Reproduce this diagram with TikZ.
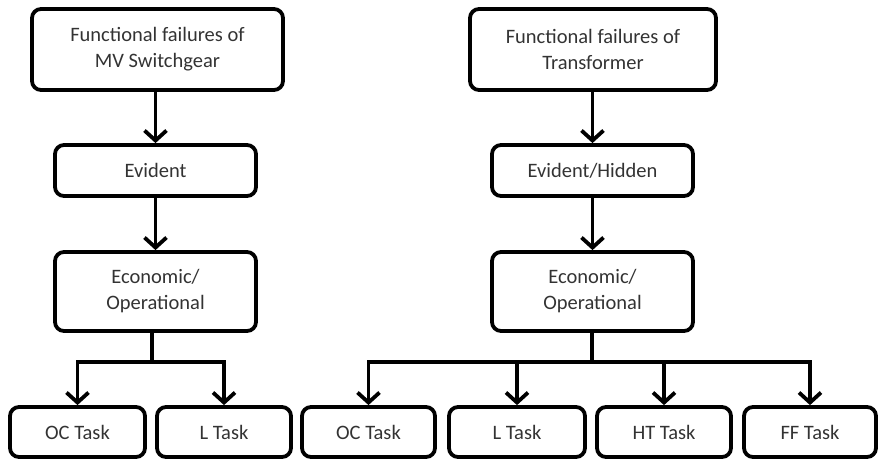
\documentclass[tikz,border=0pt]{standalone}
\usepackage{fontspec}
\setmainfont{Carlito}
\usetikzlibrary{arrows.meta}
\begin{document}
\begin{tikzpicture}[x=1pt,y=-1pt,
  box/.style={draw=black, line width=3.8pt, rounded corners=9pt, inner sep=0pt,
    align=center, font=\fontsize{20.5}{26}\selectfont, text=black!80},
  conn/.style={line width=3.8pt, -{Straight Barb[length=10pt,width=22pt]}},
  plain/.style={line width=3.8pt}]
\useasboundingbox (0,0) rectangle (880,461);
\node[box, minimum width=251pt, minimum height=81pt] (f1) at (157.5,49.5) {Functional failures of\\MV Switchgear};
\node[box, minimum width=246pt, minimum height=81pt] (f2) at (593,49.5) {Functional failures of\\Transformer};
\node[box, minimum width=201pt, minimum height=51pt] (e1) at (155.5,170.5) {Evident};
\node[box, minimum width=201pt, minimum height=51pt] (e2) at (592.5,170.5) {Evident/Hidden};
\node[box, minimum width=201pt, minimum height=79pt] (o1) at (155.5,291.5) {Economic/\\Operational};
\node[box, minimum width=201pt, minimum height=79pt] (o2) at (592.5,291.5) {Economic/\\Operational};
\node[box, minimum width=135pt, minimum height=50pt] (b1) at (77.5,432) {OC Task};
\node[box, minimum width=134pt, minimum height=50pt] (b2) at (224,432) {L Task};
\node[box, minimum width=133pt, minimum height=50pt] (b3) at (368.5,432) {OC Task};
\node[box, minimum width=136pt, minimum height=50pt] (b4) at (517,432) {L Task};
\node[box, minimum width=134pt, minimum height=50pt] (b5) at (664,432) {HT Task};
\node[box, minimum width=132pt, minimum height=50pt] (b6) at (810,432) {FF Task};
\coordinate (j1) at (152,362);
\coordinate (j2) at (592,362);
\draw[conn] (e1.north |- f1.south) -- (e1.north);
\draw[conn] (e1.south) -- (o1.north);
\draw[conn] (e2.north |- f2.south) -- (e2.north);
\draw[conn] (e2.south) -- (o2.north);
\draw[plain] (j1 |- o1.south) -- (j1);
\draw[plain] (j2 |- o2.south) -- (j2);
\draw[conn] (j1) -| (b1.north);
\draw[conn] (j1) -| (b2.north);
\draw[conn] (j2) -| (b3.north);
\draw[conn] (j2) -| (b4.north);
\draw[conn] (j2) -| (b5.north);
\draw[conn] (j2) -| (b6.north);
\end{tikzpicture}
\end{document}
